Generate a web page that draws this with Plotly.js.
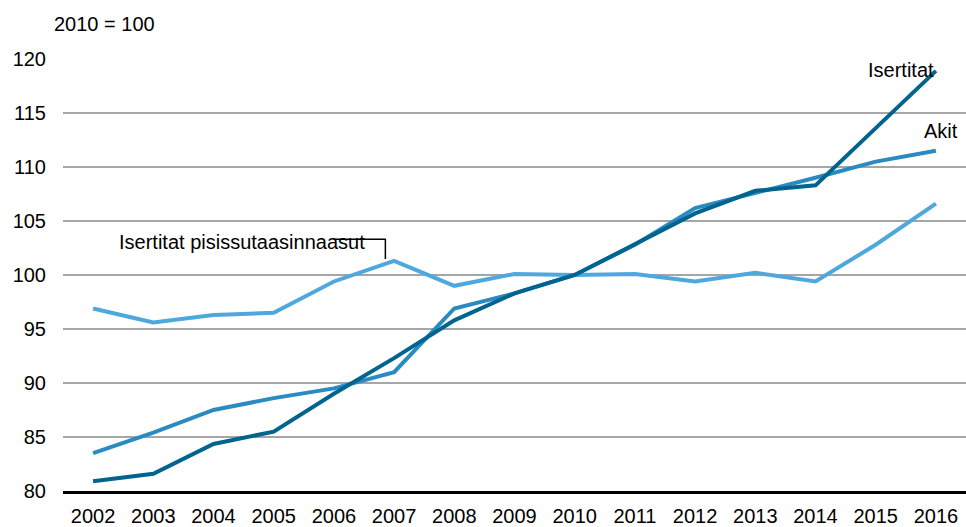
<!DOCTYPE html>
<html>
<head>
<meta charset="utf-8">
<script src="https://cdn.plot.ly/plotly-3.0.1.min.js"></script>
<style>html,body{margin:0;padding:0;background:#fff;}#chart{width:966px;height:527px;}</style>
</head>
<body>
<div id="chart"></div>
<script>
const years = ['2002','2003','2004','2005','2006','2007','2008','2009','2010','2011','2012','2013','2014','2015','2016'];
const isertitat = [80.9, 81.6, 84.35, 85.5, 89.0, 92.3, 95.8, 98.3, 100, 102.9, 105.7, 107.8, 108.3, 113.6, 118.9];
const akit = [83.5, 85.4, 87.5, 88.6, 89.5, 91.0, 96.9, 98.3, 100, 102.8, 106.2, 107.6, 109.0, 110.5, 111.5];
const pisissutaasinnaasut = [96.9, 95.6, 96.3, 96.5, 99.4, 101.3, 99.0, 100.1, 100, 100.1, 99.4, 100.2, 99.4, 102.8, 106.6];
const yTicks = [80, 85, 90, 95, 100, 105, 110, 115, 120];

const font = 'Liberation Sans, Arial, sans-serif';
const traces = [
  {x: years, y: pisissutaasinnaasut, name: 'Isertitat pisissutaasinnaasut', mode: 'lines', line: {color: '#4ea8de', width: 4}},
  {x: years, y: akit, name: 'Akit', mode: 'lines', line: {color: '#2a8ac2', width: 4}},
  {x: years, y: isertitat, name: 'Isertitat', mode: 'lines', line: {color: '#00648f', width: 4}}
];
const layout = {
  width: 966, height: 527,
  margin: {l: 63, r: 0, t: 59, b: 36},
  paper_bgcolor: '#fff', plot_bgcolor: '#fff',
  showlegend: false,
  font: {family: font, color: '#000', size: 20},
  xaxis: {type: 'category', categoryarray: years, range: [-0.5, years.length - 0.5], autorange: false,
    showgrid: false, zeroline: false,
    showline: true, linecolor: '#000', linewidth: 2.5, ticks: '', tickfont: {size: 20}, ticklabelstandoff: 5},
  yaxis: {range: [80, 120], autorange: false, tickvals: yTicks, showgrid: true, gridcolor: '#a6a6a6', gridwidth: 1.5,
    zeroline: false, showline: false, ticks: '', tickfont: {size: 20}, ticklabelstandoff: 16},
  annotations: [
    {xref: 'paper', yref: 'paper', x: -0.012, y: 1.05, xanchor: 'left', yanchor: 'bottom', text: '2010 = 100', showarrow: false, font: {size: 20}},
    {xref: 'x', yref: 'y', x: 14, y: 120, xanchor: 'right', yanchor: 'top', xshift: 0, yshift: 2, text: 'Isertitat', showarrow: false, font: {size: 20}},
    {xref: 'x', yref: 'y', x: 14, y: 114.5, xanchor: 'right', yanchor: 'top', xshift: 24, text: 'Akit', showarrow: false, font: {size: 20}},
    {xref: 'x', yref: 'y', x: 0, y: 103.1, xanchor: 'left', yanchor: 'middle', xshift: 24, text: 'Isertitat pisissutaasinnaasut', showarrow: false, font: {size: 20}}
  ],
  shapes: [
    {type: 'path', xref: 'paper', yref: 'paper', path: 'M 0.3 0.583 L 0.357 0.583 L 0.357 0.537', line: {color: '#000', width: 1.5}}
  ]
};
Plotly.newPlot('chart', traces, layout, {displayModeBar: false, staticPlot: true});
</script>
</body>
</html>
